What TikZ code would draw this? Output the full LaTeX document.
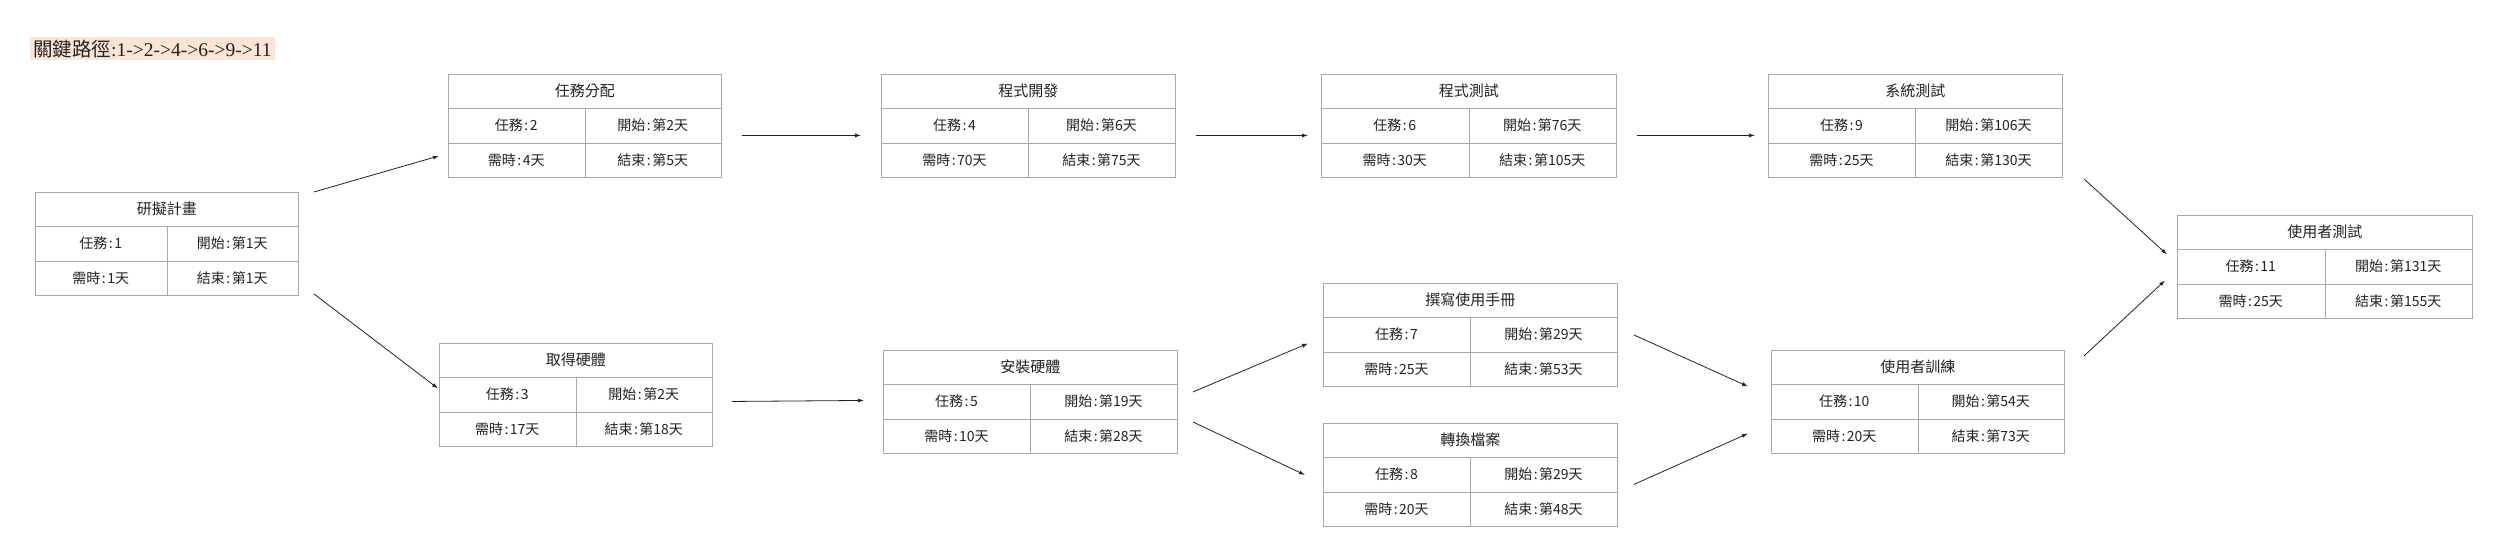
\documentclass[tikz,border=0pt]{standalone}
\usepackage{fontspec}
\setmainfont{Noto Sans CJK TC}
\newfontfamily\serifnum{Liberation Serif}
\usetikzlibrary{arrows.meta,calc,positioning}

\definecolor{boxgray}{HTML}{A8A8A8}
\definecolor{peach}{HTML}{FCE4D6}
\definecolor{inkgray}{HTML}{222222}

% colon with a little air round it
\newcommand{\cellsep}{\hspace{1.5pt}:\hspace{1.5pt}}

% name, left, top, width, title, task, start, duration, end
\newcommand{\taskbox}[9]{%
  \node[box, minimum width=#4pt] (#1) at (#2,#3) {};
  \draw[cell] ([yshift=-34pt]#1.north west) -- ([yshift=-34pt]#1.north east);
  \draw[cell] ([yshift=-69pt]#1.north west) -- ([yshift=-69pt]#1.north east);
  \draw[cell] ([yshift=-34pt]#1.north) -- (#1.south);
  \node[txt, font=\fontsize{15}{18}\selectfont] (#1-title) at ([yshift=-17pt]#1.north) {#5};
  \node[txt] (#1-id)    at ({#2+#4/4},{#3+51.5}) {任務\cellsep{}#6};
  \node[txt] (#1-start) at ({#2+3*#4/4},{#3+51.5}) {開始\cellsep{}第#7天};
  \node[txt] (#1-dur)   at ({#2+#4/4},{#3+86.5}) {需時\cellsep{}#8天};
  \node[txt] (#1-end)   at ({#2+3*#4/4},{#3+86.5}) {結束\cellsep{}第#9天};
}

\begin{document}
\begin{tikzpicture}[x=1pt, y=-1pt,
    box/.style={draw=boxgray, line width=0.9pt, anchor=north west, minimum height=103pt, inner sep=0pt},
    cell/.style={draw=boxgray, line width=0.9pt},
    txt/.style={font=\fontsize{14}{17}\selectfont, text=inkgray, inner sep=0pt},
    link/.style={draw=inkgray, line width=0.8pt, -{Latex[length=6pt,width=4pt]}},
  ]

    \useasboundingbox (0,0) rectangle (2500,555);

    %critical path label
    \node[fill=peach, anchor=north west, inner xsep=3pt, inner ysep=0pt, minimum height=23pt,
      font=\fontsize{19.5}{22}\selectfont, text=inkgray] (critpath) at (30,37)
      {關鍵路徑{\serifnum :1->2->4->6->9->11}};

    %draw the task boxes
    \taskbox{plan}{35}{192}{263}{研擬計畫}{1}{1}{1}{1}
    \taskbox{assign}{448}{74}{273}{任務分配}{2}{2}{4}{5}
    \taskbox{hwget}{439}{343}{273}{取得硬體}{3}{2}{17}{18}
    \taskbox{progdev}{881}{74}{294}{程式開發}{4}{6}{70}{75}
    \taskbox{hwinst}{883}{350}{294}{安裝硬體}{5}{19}{10}{28}
    \taskbox{progtest}{1321}{74}{295}{程式測試}{6}{76}{30}{105}
    \taskbox{manual}{1323}{283}{294}{撰寫使用手冊}{7}{29}{25}{53}
    \taskbox{convert}{1323}{423}{294}{轉換檔案}{8}{29}{20}{48}
    \taskbox{systest}{1768}{74}{294}{系統測試}{9}{106}{25}{130}
    \taskbox{training}{1771}{350}{293}{使用者訓練}{10}{54}{20}{73}
    \taskbox{usertest}{2177}{215}{295}{使用者測試}{11}{131}{25}{155}

    %draw the dependencies
    \draw[link] ($(plan.north east)+(15,0)$) -- ($(assign.south west)+(-9,-22)$);
    \draw[link] ($(plan.south east)+(15,-2)$) -- ($(hwget.west)+(-1,-6.5)$);
    \draw[link] ($(assign.east)+(20,9.5)$) -- ($(progdev.west)+(-20,9.5)$);
    \draw[link] ($(progdev.east)+(20,9.5)$) -- ($(progtest.west)+(-13,9.5)$);
    \draw[link] ($(progtest.east)+(20,9.5)$) -- ($(systest.west)+(-13,9.5)$);
    \draw[link] ($(hwget.east)+(19,6.5)$) -- ($(hwinst.west)+(-19,-1.5)$);
    \draw[link] ($(hwinst.east)+(15,-10)$) -- ($(manual.west)+(-15,8.5)$);
    \draw[link] ($(hwinst.east)+(15,20)$) -- ($(convert.west)+(-18,0)$);
    \draw[link] ($(manual.east)+(16,0)$) -- ($(training.west)+(-23,-15.5)$);
    \draw[link] ($(convert.east)+(16,9.5)$) -- ($(training.west)+(-23,31.5)$);
    \draw[link] ($(systest.south east)+(21,1)$) -- ($(usertest.west)+(-10,-12.5)$);
    \draw[link] ($(training.north east)+(19,6)$) -- ($(usertest.west)+(-12,13.5)$);

\end{tikzpicture}
\end{document}
